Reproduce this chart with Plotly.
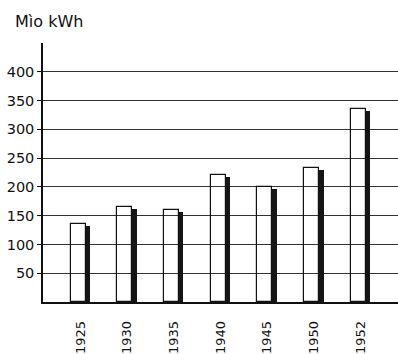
import plotly.graph_objects as go

years = ["1925", "1930", "1935", "1940", "1945", "1950", "1952"]
values = [135, 165, 160, 220, 200, 233, 335]
y_ticks = [50, 100, 150, 200, 250, 300, 350, 400]
unit_label = "Mìo kWh"

pos = list(range(len(years)))
side_drop = 3

fig = go.Figure()
# dark side face (3D effect)
fig.add_trace(go.Bar(
    x=pos, y=[v - side_drop for v in values],
    width=0.095, offset=0.11,
    marker=dict(color="#151515", line=dict(width=0)),
    hoverinfo="skip", showlegend=False,
))
# white front face
fig.add_trace(go.Bar(
    x=pos, y=values,
    width=0.32, offset=-0.21,
    marker=dict(color="rgba(255,255,255,0)", line=dict(color="#111", width=1.2)),
    showlegend=False,
))

fig.update_layout(
    width=398, height=354,
    margin=dict(l=43, r=0, t=43, b=52, autoexpand=False),
    paper_bgcolor="white", plot_bgcolor="white",
    font=dict(family="DejaVu Sans", color="#111"),
    bargap=0, barmode="overlay",
    annotations=[dict(
        text=unit_label, xref="paper", yref="paper",
        x=-0.085, y=1.0, yshift=22, xanchor="left", yanchor="middle",
        showarrow=False, font=dict(size=16, family="DejaVu Sans", color="#111"),
    )],
)
fig.update_xaxes(
    range=[-0.803, 6.8], automargin=False,
    tickvals=pos, ticktext=years, tickangle=-90,
    tickfont=dict(size=13), ticks="", ticklabelstandoff=12,
    showgrid=False, zeroline=False,
    showline=True, linecolor="#111", linewidth=1.5,
)
fig.update_yaxes(
    range=[0, 450], automargin=False,
    tickvals=y_ticks, tickfont=dict(size=14.5),
    ticks="outside", ticklen=4, tickcolor="#111", tickwidth=1.2,
    showgrid=True, gridcolor="#333", gridwidth=1,
    zeroline=False,
    showline=True, linecolor="#111", linewidth=1.5,
)

fig.write_html(
    "out.html",
    config={"displayModeBar": False},
    post_script="document.body.style.margin='0';document.body.style.padding='0';",
)
